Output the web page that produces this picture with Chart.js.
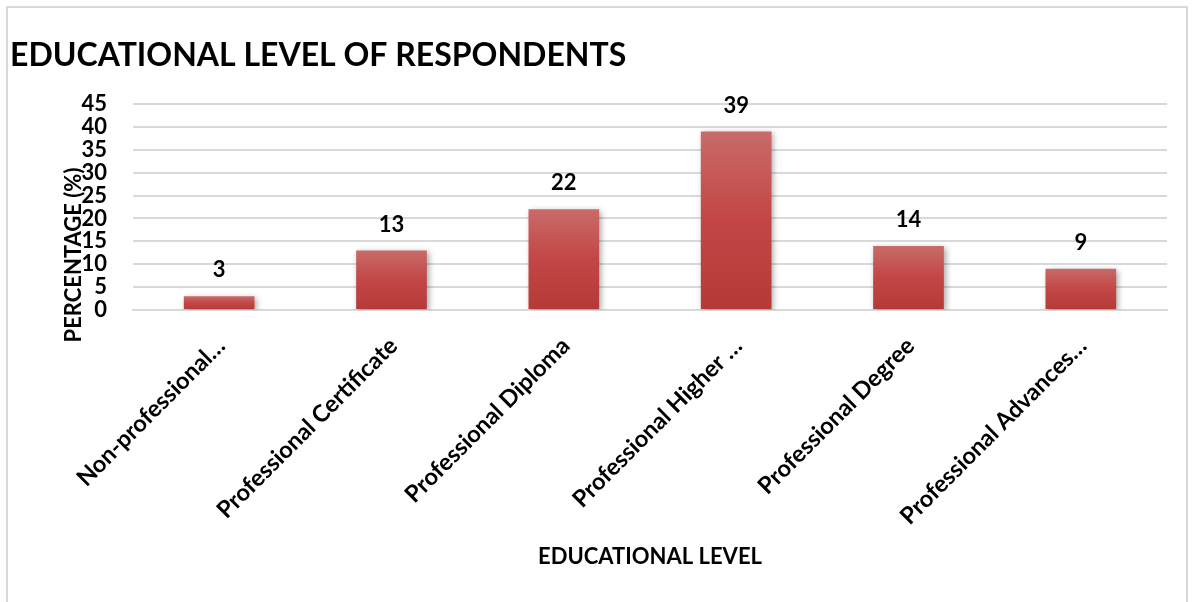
<!DOCTYPE html>
<html>
<head>
<meta charset="utf-8">
<script src="https://cdn.jsdelivr.net/npm/chart.js@4"></script>
<style>
    html, body { margin: 0; padding: 0; background: #fff; }
    #wrap { position: relative; width: 1195px; height: 602px; overflow: hidden; }
    #frame {
        position: absolute; left: 6px; top: 6px; width: 1182px; height: 620px;
        border: 2px solid #d9d9d9; box-sizing: border-box;
    }
    #eduChart { position: absolute; left: 0; top: 0; }
</style>
</head>
<body>
<div id="wrap">
    <div id="frame"></div>
    <canvas id="eduChart" width="1195" height="602"></canvas>
</div>
<script>
// 학력 수준 (응답자 비율)
const levelLabels = [
    "Non-professional…",
    "Professional Certificate",
    "Professional Diploma",
    "Professional Higher …",
    "Professional Degree",
    "Professional Advances…",
];
const percentValues = [3, 13, 22, 39, 14, 9];
const yTicks = [0, 5, 10, 15, 20, 25, 30, 35, 40, 45];

const FONT = "Lato, 'Open Sans', sans-serif";

// 막대 그라데이션 (위 밝고 아래 진함)
function barGradient(context) {
    const chart = context.chart;
    const area = chart.chartArea;
    const yScale = chart.scales.y;
    if (!area || !yScale) return "#c0504d";
    const top = yScale.getPixelForValue(percentValues[context.dataIndex]);
    if (!isFinite(top) || !isFinite(area.bottom) || top >= area.bottom) return "#c0504d";
    const g = chart.ctx.createLinearGradient(0, top, 0, area.bottom);
    g.addColorStop(0, "#c96b69");
    g.addColorStop(0.5, "#c24645");
    g.addColorStop(1, "#b43a38");
    return g;
}

// 막대 그림자
const barShadow = {
    id: "barShadow",
    beforeDatasetDraw(chart) {
        const ctx = chart.ctx;
        ctx.save();
        ctx.shadowColor = "rgba(0, 0, 0, 0.35)";
        ctx.shadowBlur = 6;
        ctx.shadowOffsetX = 2;
        ctx.shadowOffsetY = 2;
    },
    afterDatasetDraw(chart) {
        chart.ctx.restore();
    },
};

// 막대 위 값 표시 + 세로축 제목
const valueLabels = {
    id: "valueLabels",
    afterDatasetsDraw(chart) {
        const ctx = chart.ctx;
        const meta = chart.getDatasetMeta(0);
        ctx.save();
        ctx.fillStyle = "#000";
        ctx.font = "bold 22px " + FONT;
        ctx.textAlign = "center";
        ctx.textBaseline = "middle";
        meta.data.forEach((bar, i) => {
            ctx.fillText(String(percentValues[i]), bar.x, bar.y - 26);
        });
        ctx.restore();
    },
    afterDraw(chart) {
        const ctx = chart.ctx;
        ctx.save();
        ctx.translate(74, 255);
        ctx.rotate(-Math.PI / 2);
        ctx.fillStyle = "#000";
        ctx.font = "bold 22px " + FONT;
        ctx.textAlign = "center";
        ctx.textBaseline = "middle";
        ctx.fillText("PERCENTAGE (%)", 0, 0);
        ctx.restore();
    },
};

const eduChart = new Chart(document.getElementById("eduChart").getContext("2d"), {
    type: "bar",
    data: {
        labels: levelLabels,
        datasets: [
            {
                label: "PERCENTAGE (%)",
                data: percentValues,
                backgroundColor: barGradient,
                borderWidth: 0,
                categoryPercentage: 1,
                barPercentage: 0.41,
            },
        ],
    },
    options: {
        responsive: false,
        animation: false,
        layout: {
            padding: { left: 10, right: 28, top: 0, bottom: 20 },
        },
        plugins: {
            legend: { display: false },
            tooltip: { enabled: false },
            title: {
                display: true,
                text: "EDUCATIONAL LEVEL OF RESPONDENTS",
                align: "start",
                color: "#000",
                font: { family: FONT, size: 32, weight: "bold" },
                padding: { top: 36, bottom: 29.6 },
            },
        },
        scales: {
            x: {
                grid: { display: false, drawTicks: false },
                border: { display: true, color: "#d9d9d9", width: 2 },
                ticks: {
                    color: "#000",
                    font: { family: FONT, size: 23.5, weight: "bold" },
                    minRotation: 45,
                    maxRotation: 45,
                    padding: 22,
                    labelOffset: 2,
                    autoSkip: false,
                },
                title: {
                    display: true,
                    text: "EDUCATIONAL LEVEL",
                    color: "#000",
                    font: { family: FONT, size: 22, weight: "bold" },
                    padding: { top: 0, bottom: 12 },
                },
                afterFit(scale) {
                    scale.height = 602 - 20 - 310;
                },
            },
            y: {
                min: 0,
                max: 45,
                afterBuildTicks(scale) {
                    scale.ticks = yTicks.map((v) => ({ value: v }));
                },
                grid: {
                    color: "#d9d9d9",
                    lineWidth: 2,
                    drawTicks: false,
                },
                border: { display: false },
                ticks: {
                    color: "#000",
                    font: { family: FONT, size: 22, weight: "bold" },
                    padding: 26,
                    autoSkip: false,
                },
                afterFit(scale) {
                    scale.width = 123;
                },
            },
        },
    },
    plugins: [barShadow, valueLabels],
});
</script>
</body>
</html>
